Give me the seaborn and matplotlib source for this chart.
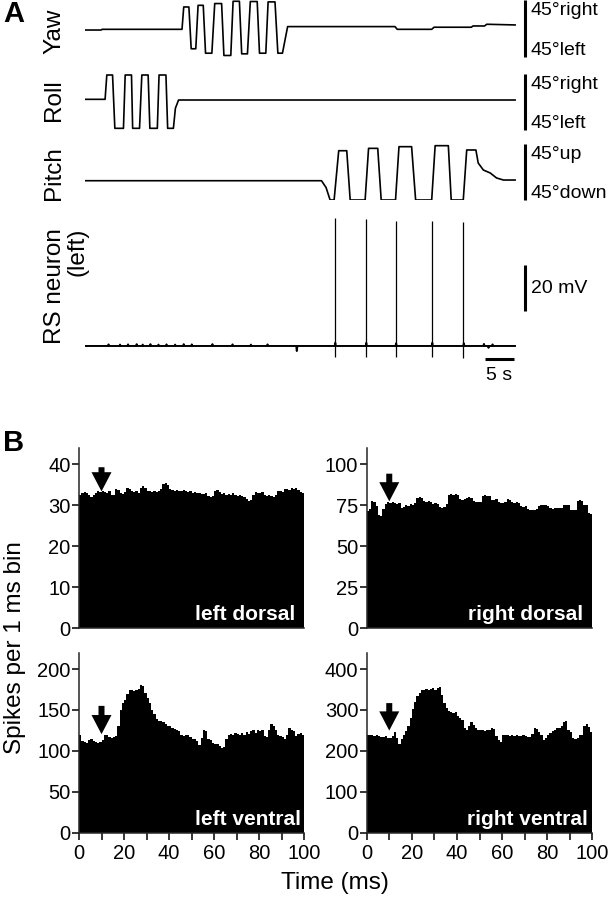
import matplotlib
matplotlib.use("Agg")
import matplotlib.pyplot as plt
import seaborn as sns
import pandas as pd

# ---------------- panel A: stimulus and recording traces ----------------
# time (s) / angle (deg) corner points
yaw_t = [0.0, 2.8, 3.0, 16.9,
         17.2, 18.1, 18.5, 19.3, 19.7, 20.6, 21.0, 22.1, 22.6, 23.8, 24.2, 25.4,
         25.8, 26.9, 27.3, 28.3, 28.8, 30.0, 30.4, 31.5, 31.9, 33.1, 33.6, 34.4,
         35.3, 54.0, 54.4, 60.4, 60.8, 67.3, 67.6, 69.6, 70.0, 75.0]
yaw_deg = [-2.4, -2.4, -1.3, -1.3,
           34, 34, -32, -32, 36.6, 36.6, -39, -39, 39.4, 39.4, -42.6, -42.6,
           43, 43, -40, -40, 42.6, 42.6, -39, -39, 42, 42, -39, -39,
           3, 3, -1.3, -1.3, 2, 2, 4, 4, 6.7, 5.6]

roll_t = [0, 3.5, 3.8, 4.8, 5.2, 6.7, 7.0, 8.1, 8.3, 9.5, 9.9, 11.0, 11.3,
          12.6, 12.9, 14.1, 14.4, 15.4, 15.75, 16.3, 75]
roll_deg = [4.3, 4.3, 43.4, 43.4, -42.3, -42.3, 43.4, 43.4, -42.3, -42.3, 43.4,
            43.4, -42.3, -42.3, 43.4, 43.4, -42.3, -42.3, -10, 3.2, 3.2]

pitch_t = [0, 41.2, 42.0, 42.7, 43.4, 44.2, 45.6, 46.2, 48.8, 49.4, 51.0, 51.6,
           54.1, 54.7, 56.9, 57.6, 60.4, 61.0, 63.3, 63.8, 65.9, 66.5, 68.1,
           68.5, 69.4, 70.6, 71.7, 72.9, 75]
pitch_deg = [-14, -14, -25, -45, -45, 34.2, 34.2, -45, -45, 38, 38, -45, -45,
             40.7, 40.7, -45, -45, 42.3, 42.3, -45, -45, 35.4, 35.4, 14.5, 3.2,
             -1.6, -9.6, -12.9, -12.9]

# RS neuron membrane potential (mV, relative to rest)
spike_t = [43.5, 48.9, 54.1, 60.4, 65.9]
spike_peak = [55.6, 55.2, 54.5, 54.4, 54.1]
spike_trough = [-4.7, -4.8, -4.8, -4.9, -5.2]
blip_t = [4.1, 6.1, 7.5, 9.0, 10.05, 11.4, 12.8, 14.2, 15.7, 17.2, 18.6,
          22.2, 25.7, 28.9, 31.8, 36.9, 43.6, 49.0, 54.2, 60.5, 66.0,
          69.5, 70.3, 71.0]
blip_mv = [0.7, 0.6, 0.7, 0.8, 0.6, 0.8, 0.6, 0.7, 0.6, 0.8, 0.7,
           0.8, 0.7, 0.6, 0.7, -2.2, 1.4, 1.4, 1.2, 1.4, 1.2,
           0.9, -0.8, 0.7]

# ---------------- panel B: spikes per 1 ms bin ----------------
left_dorsal = [
    32.6, 33.1, 33.3, 32.9, 32.4, 32.1, 32.5, 33.0, 33.4, 33.2,
    33.5, 33.3, 33.1, 33.4, 32.5, 32.4, 34.0, 33.8, 32.9, 32.7,
    33.2, 34.1, 33.9, 33.6, 33.2, 33.4, 33.0, 34.3, 34.6, 34.2,
    33.5, 33.4, 33.2, 33.6, 33.3, 33.5, 33.9, 35.1, 35.5, 34.9,
    34.1, 33.8, 33.5, 33.7, 33.4, 33.6, 33.8, 33.5, 33.2, 33.4,
    33.1, 33.3, 33.0, 32.9, 32.8, 32.7, 33.0, 32.2, 31.9, 32.3,
    33.4, 33.7, 33.3, 32.8, 32.9, 32.6, 32.8, 32.5, 33.0, 32.4,
    32.3, 32.6, 32.2, 32.0, 31.5, 31.1, 31.3, 32.4, 33.3, 33.1,
    32.9, 33.2, 32.4, 32.2, 32.5, 32.3, 32.0, 32.4, 33.4, 33.6,
    33.3, 34.0, 34.1, 33.8, 34.2, 33.9, 34.3, 33.8, 33.2, 33.0]
right_dorsal = [
    71.8, 72.9, 77.4, 76.8, 74.3, 69.2, 68.7, 72.9, 75.8, 76.9,
    76.5, 76.7, 76.3, 75.9, 76.6, 73.6, 74.1, 75.4, 74.8, 75.6,
    75.2, 76.1, 79.3, 80.1, 79.6, 77.5, 77.0, 77.4, 76.8, 75.9,
    76.4, 76.0, 74.2, 73.6, 74.0, 75.9, 81.3, 81.9, 81.5, 82.0,
    81.2, 78.9, 78.4, 78.8, 79.7, 80.1, 79.5, 77.6, 77.1, 76.8,
    77.3, 80.4, 81.2, 80.8, 80.9, 78.5, 78.1, 78.6, 76.9, 76.3,
    76.5, 77.0, 78.8, 78.5, 76.8, 76.3, 76.9, 76.4, 74.7, 74.0,
    74.3, 72.5, 72.0, 72.3, 72.1, 72.6, 74.8, 75.2, 74.9, 75.3,
    74.7, 73.4, 73.0, 73.3, 73.6, 73.1, 73.4, 75.0, 75.4, 74.9,
    72.4, 72.0, 72.3, 77.5, 78.1, 77.6, 75.3, 75.0, 70.4, 69.9]
left_ventral = [
    120, 112, 111, 110, 113, 114, 112, 111, 110, 111,
    113, 119, 120, 117, 116, 117, 118, 131, 150, 159,
    162, 170, 174, 175, 173, 174, 176, 181, 179, 171,
    165, 158, 150, 145, 139, 137, 136, 135, 133, 131,
    130, 128, 127, 126, 124, 120, 118, 119, 120, 117,
    115, 114, 112, 107, 116, 126, 124, 115, 113, 110,
    108, 109, 106, 104, 105, 114, 119, 121, 120, 122,
    121, 119, 122, 120, 123, 121, 124, 125, 122, 126,
    124, 125, 118, 117, 126, 133, 131, 125, 119, 118,
    117, 114, 119, 128, 126, 124, 118, 121, 122, 120]
right_ventral = [
    239, 238, 239, 237, 238, 236, 235, 234, 236, 232,
    231, 236, 246, 231, 216, 228, 240, 248, 262, 280,
    302, 320, 334, 342, 348, 350, 352, 349, 351, 353,
    350, 354, 356, 336, 318, 305, 298, 295, 293, 294,
    285, 280, 276, 257, 251, 262, 270, 264, 257, 252,
    250, 251, 249, 250, 252, 256, 254, 236, 226, 222,
    238, 239, 240, 237, 238, 236, 238, 237, 236, 239,
    237, 233, 235, 242, 256, 253, 245, 240, 226, 232,
    240, 243, 248, 252, 255, 257, 262, 270, 274, 250,
    246, 232, 230, 231, 238, 240, 260, 265, 258, 247]

# set the style
sns.set_theme(style="ticks")
plt.rcParams["font.family"] = ["Liberation Sans", "DejaVu Sans"]
plt.rcParams["axes.linewidth"] = 1.1
plt.rcParams["xtick.major.width"] = 1.1
plt.rcParams["ytick.major.width"] = 1.1
plt.rcParams["xtick.minor.width"] = 1.1
plt.rcParams["text.color"] = "black"
plt.rcParams["xtick.color"] = "black"
plt.rcParams["ytick.color"] = "black"

W, H = 609, 899
fig = plt.figure(figsize=(W / 100, H / 100), dpi=100)


def add_ax(left, top, right, bottom):
    return fig.add_axes([left / W, 1 - bottom / H, (right - left) / W, (bottom - top) / H])


def ftext(x, y, s, **kw):
    fig.text(x / W, 1 - y / H, s, **kw)


# ---- panel A ----
trace_lw = 1.2
bar_x = 76.7
label_x = 77.7
scale_fs = 14

stim = [
    ("Yaw", yaw_t, yaw_deg, (0, 57), ("45°right", "45°left"), 31),
    ("Roll", roll_t, roll_deg, (74, 130), ("45°right", "45°left"), 100),
    ("Pitch", pitch_t, pitch_deg, (144, 200), ("45°up", "45°down"), 173),
]
for name, tt, dd, (top, bot), (hi, lo), ly in stim:
    ax = add_ax(85, top, 515.5, bot)
    sns.lineplot(x=tt, y=dd, ax=ax, color="black", lw=trace_lw,
                 estimator=None, sort=False)
    ax.set_xlim(0, 75)
    ax.set_ylim(-45, 45)
    ax.axis("off")
    ax.plot([bar_x, bar_x], [-45, 45], color="black", lw=2.2,
            clip_on=False, solid_capstyle="butt")
    ax.text(label_x, 0.82, hi, transform=ax.get_xaxis_transform(),
            fontsize=scale_fs, va="center", ha="left")
    ax.text(label_x, 0.11, lo, transform=ax.get_xaxis_transform(),
            fontsize=scale_fs, va="center", ha="left")
    ftext(54, ly, name, rotation=90, fontsize=17.5, ha="center", va="center")

# RS neuron rest trace with small blips; spikes drawn as thin vertical lines
rs_t, rs_v = [0.0], [0.0]
for t, a in zip(blip_t, blip_mv):
    rs_t += [t - 0.1, t, t + 0.1]
    rs_v += [0.0, a, 0.0]
rs_t.append(75.0)
rs_v.append(0.0)

ax = add_ax(85, 218, 515.5, 360)
sns.lineplot(x=rs_t, y=rs_v, ax=ax, color="black", lw=1.4,
             estimator=None, sort=False)
ax.vlines(spike_t, spike_trough, spike_peak, color="black", lw=0.9)
ax.set_xlim(0, 75)
ax.set_ylim(-6.1, 55.7)
ax.axis("off")
ax.plot([bar_x, bar_x], [15.2, 35.2], color="black", lw=2.2, clip_on=False,
        solid_capstyle="butt")
ax.text(label_x, 25.2, "20 mV", fontsize=scale_fs, va="center", ha="left")
ax.plot([69.7, 74.7], [-5.65, -5.65], color="black", lw=2.2, clip_on=False,
        solid_capstyle="butt")
ax.text(72.2, -13.0, "5 s", fontsize=scale_fs, va="center", ha="center")
ftext(66, 228, "RS neuron\n(left)", rotation=90, fontsize=17.5, ha="center",
      va="top", multialignment="right", linespacing=1.0)

ftext(3, 14, "A", fontsize=21, fontweight="bold", ha="left", va="center")

# ---- panel B ----
edges = list(range(0, 101))
centers = [e + 0.5 for e in edges[:-1]]
hists = [
    (left_dorsal, (79, 448, 304, 628), 44, [0, 10, 20, 30, 40], "left dorsal", (39.3, 33.4), 0.96, False),
    (right_dorsal, (366.7, 448, 592.3, 628), 110, [0, 25, 50, 75, 100], "right dorsal", (94.3, 77.4), 0.96, False),
    (left_ventral, (79, 652.7, 304, 832.7), 220, [0, 50, 100, 150, 200], "left ventral", (155, 120.4), 0.985, True),
    (right_ventral, (366.7, 652.7, 592.3, 832.7), 440, [0, 100, 200, 300, 400], "right ventral", (316.8, 249.7), 0.98, True),
]
for vals, box, ytop, yt, lab, (a0, a1), tx, bottom_row in hists:
    ax = add_ax(*box)
    df = pd.DataFrame({"ms": centers, "spikes": vals})
    sns.histplot(data=df, x="ms", weights="spikes", bins=edges, element="step",
                 fill=True, color="black", alpha=1, linewidth=0, ax=ax)
    ax.set_xlim(0, 100)
    ax.set_ylim(0, ytop)
    ax.set_yticks(yt)
    ax.set_xlabel("")
    ax.set_ylabel("")
    sns.despine(ax=ax)
    ax.tick_params(axis="y", length=5, pad=1, labelsize=14.5)
    if bottom_row:
        ax.set_xticks([0, 20, 40, 60, 80, 100])
        ax.set_xticks([10, 30, 50, 70, 90], minor=True)
        ax.tick_params(axis="x", which="both", length=5, pad=3, labelsize=14.5)
    else:
        ax.set_xticks([])
    ax.annotate("", xy=(10, a1), xytext=(10, a0),
                arrowprops=dict(arrowstyle="simple,head_length=1.15,head_width=1.2,tail_width=0.36",
                                fc="black", ec="black", lw=0, shrinkA=0, shrinkB=0),
                annotation_clip=False)
    ax.text(tx, 0.044, lab, transform=ax.transAxes, color="white",
            fontsize=15, fontweight="bold", ha="right", va="baseline")

ftext(3, 443, "B", fontsize=21, fontweight="bold", ha="left", va="center")
ftext(15, 648, "Spikes per 1 ms bin", rotation=90, fontsize=17.5,
      ha="center", va="center")
ftext(335, 883, "Time (ms)", fontsize=17.5, ha="center", va="center")

plt.savefig("out.png", dpi=100)
plt.close(fig)
